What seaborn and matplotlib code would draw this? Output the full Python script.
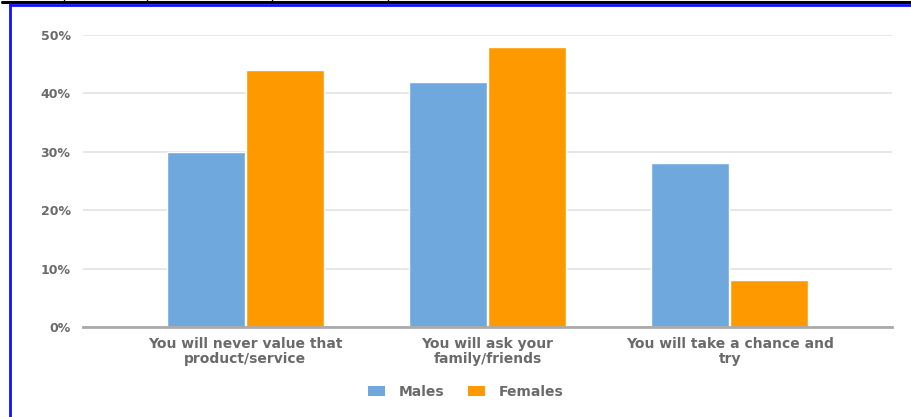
import matplotlib
matplotlib.use("Agg")
import matplotlib.pyplot as plt
import seaborn as sns
import pandas as pd
from matplotlib.patches import Rectangle
from matplotlib.lines import Line2D
from matplotlib.ticker import PercentFormatter

categories = [
    "You will never value that\nproduct/service",
    "You will ask your\nfamily/friends",
    "You will take a chance and\ntry",
]
males = [0.30, 0.42, 0.28]
females = [0.44, 0.48, 0.08]
series_names = ["Males", "Females"]
yticks = [0.0, 0.1, 0.2, 0.3, 0.4, 0.5]

df = pd.DataFrame({
    "category": categories * 2,
    "share": males + females,
    "group": [series_names[0]] * 3 + [series_names[1]] * 3,
})

sns.set_theme(style="white")
plt.rcParams["font.family"] = ["DejaVu Sans"]

W, H = 911, 417
fig = plt.figure(figsize=(W / 100, H / 100), dpi=100)
ax = fig.add_axes([83 / W, 1 - 327 / H, (892 - 83) / W, (327 - 35) / H])

palette = {"Males": "#6fa8dc", "Females": "#ff9900"}
sns.barplot(data=df, x="category", y="share", hue="group", palette=palette,
            width=0.655, gap=0.015, saturation=1, ax=ax, legend=False, zorder=3)

ax.set_xlim(-0.67, 2.67)
ax.set_ylim(0, 0.5)
ax.set_yticks(yticks)
ax.yaxis.set_major_formatter(PercentFormatter(1.0, decimals=0))
ax.grid(axis="y", color="#e3e3e3", linewidth=1.2, zorder=0)
ax.set_axisbelow(True)
for s in ["top", "right", "left"]:
    ax.spines[s].set_visible(False)
ax.spines["bottom"].set_color("#aaaaaa")
ax.spines["bottom"].set_linewidth(2)
ax.spines["bottom"].set_zorder(4)
ax.set_xlabel("")
ax.set_ylabel("")
ax.tick_params(axis="y", length=0, pad=9, labelsize=9, labelcolor="#6a6a6a")
ax.tick_params(axis="x", length=0, pad=7, labelsize=10, labelcolor="#6a6a6a")
for lbl in ax.get_yticklabels() + ax.get_xticklabels():
    lbl.set_fontweight("bold")
for lbl in ax.get_xticklabels():
    lbl.set_linespacing(1.15)

handles = [Rectangle((0, 0), 1, 1, facecolor=palette[n], edgecolor="none") for n in series_names]
leg = fig.legend(handles, series_names, loc="center", bbox_to_anchor=(466 / W, 1 - 392 / H),
                 ncol=2, frameon=False, handlelength=1.22, handleheight=0.8,
                 columnspacing=1.7, handletextpad=1.0, fontsize=10)
for t in leg.get_texts():
    t.set_color("#6a6a6a")
    t.set_fontweight("bold")

# page frame: black rule with separators at top, blue border on the left and top
fig.add_artist(Line2D([2 / W, 1], [1 - 1.5 / H, 1 - 1.5 / H], color="black", linewidth=2.2))
for xs in [64, 147, 272, 388]:
    fig.add_artist(Line2D([xs / W, xs / W], [1 - 0 / H, 1 - 3 / H], color="black", linewidth=1))
fig.add_artist(Line2D([9.5 / W, 1], [1 - 5 / H, 1 - 5 / H], color="#1010ff", linewidth=2))
fig.add_artist(Line2D([10 / W, 10 / W], [1 - 4 / H, 0], color="#1010ff", linewidth=2))

fig.savefig("out.png", dpi=100)
